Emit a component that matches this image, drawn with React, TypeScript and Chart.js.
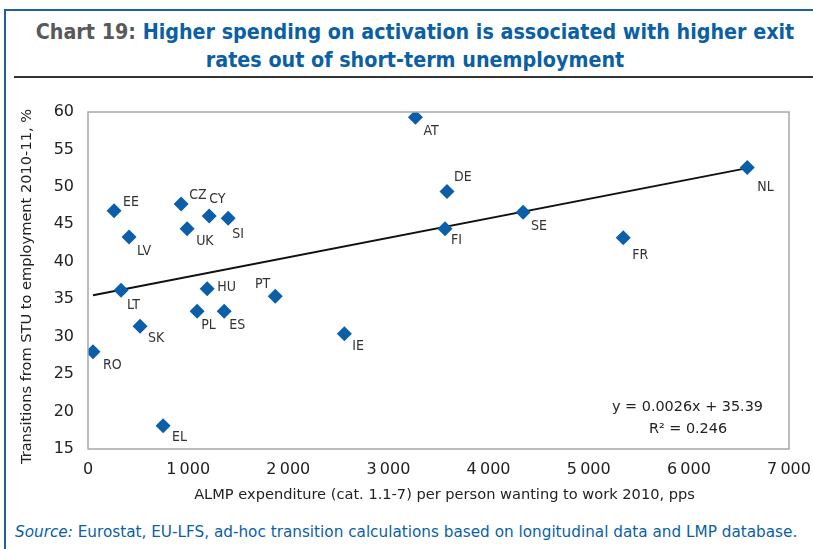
import React, { useEffect, useRef } from "react";
import { Chart, registerables } from "chart.js";

Chart.register(...registerables);

const countries = ["RO", "EE", "LV", "LT", "SK", "EL", "CZ", "UK", "CY", "SI", "HU", "PL", "ES", "PT", "IE", "AT", "DE", "FI", "SE", "FR", "NL"];
const almpSpending = [50, 260, 410, 330, 520, 750, 930, 990, 1210, 1400, 1190, 1090, 1360, 1870, 2560, 3270, 3585, 3565, 4345, 5345, 6583];
const exitRates = [28.0, 46.8, 43.3, 36.2, 31.4, 18.1, 47.7, 44.4, 46.1, 45.8, 36.4, 33.4, 33.4, 35.4, 30.4, 59.3, 49.4, 44.4, 46.6, 43.2, 52.6];
const trendSlope = 0.0026;
const trendIntercept = 35.39;
const rSquared = 0.246;
const xTicks = [0, 1000, 2000, 3000, 4000, 5000, 6000, 7000];
const yTicks = [15, 20, 25, 30, 35, 40, 45, 50, 55, 60];
const xTitle = "ALMP expenditure (cat. 1.1-7) per person wanting to work 2010, pps";
const yTitle = "Transitions from STU to employment 2010-11, %";

// label offsets (pixels, relative to marker centre) and alignment
const labelOffsets: Record<string, [number, number, CanvasTextAlign]> = {
  RO: [10, 14, "left"], EE: [9, -8, "left"], LV: [8, 14, "left"], LT: [6, 15, "left"],
  SK: [8, 12, "left"], EL: [9, 12, "left"], CZ: [8, -9, "left"], UK: [9, 13, "left"],
  CY: [0, -17, "left"], SI: [4, 16, "left"], HU: [10, -1, "left"], PL: [4, 14, "left"],
  ES: [5, 14, "left"], PT: [-5, -12, "right"], IE: [8, 13, "left"], AT: [8, 14, "left"],
  DE: [7, -14, "left"], FI: [6, 12, "left"], SE: [8, 14, "left"], FR: [9, 18, "left"],
  NL: [10, 20, "left"],
};

const fmt = (v: number) => {
  const s = String(v);
  return s.length > 3 ? s.slice(0, s.length - 3) + "\u2009" + s.slice(-3) : s;
};

const roundFont = "'DejaVu Sans', sans-serif";

export default function App() {
  const ref = useRef<HTMLCanvasElement>(null);
  useEffect(() => {
    if (!ref.current) return;
    const minX = Math.min(...almpSpending);
    const maxX = Math.max(...almpSpending);
    const overlay = {
      id: "overlay",
      afterDatasetsDraw(chart: any) {
        const { ctx, chartArea: a, scales } = chart;
        ctx.save();
        ctx.strokeStyle = "#a6a6a6";
        ctx.lineWidth = 1.5;
        ctx.strokeRect(a.left, a.top, a.right - a.left, a.bottom - a.top);
        ctx.fillStyle = "#333";
        ctx.font = `14px 'DejaVu Sans', sans-serif`;
        (ctx as any).fontStretch = "condensed";
        ctx.textBaseline = "middle";
        countries.forEach((c, i) => {
          const px = scales.x.getPixelForValue(almpSpending[i]);
          const py = scales.y.getPixelForValue(exitRates[i]);
          const [dx, dy, al] = labelOffsets[c];
          ctx.textAlign = al;
          ctx.fillText(c, px + dx, py + dy);
        });
        (ctx as any).fontStretch = "normal";
        ctx.fillStyle = "#222";
        ctx.font = `14.4px ${roundFont}`;
        ctx.textAlign = "right";
        ctx.fillText(`y = ${trendSlope.toFixed(4)}x + ${trendIntercept.toFixed(2)}`, a.right - 26, a.bottom - 42);
        ctx.textAlign = "center";
        ctx.fillText(`R\u00b2 = ${rSquared.toFixed(3)}`, a.right - 101, a.bottom - 20);
        // axis titles
        ctx.font = `14.6px ${roundFont}`;
        ctx.fillText(xTitle, (a.left + a.right) / 2 + 6, a.bottom + 46);
        ctx.translate(27, (a.top + a.bottom) / 2 + 6);
        ctx.rotate(-Math.PI / 2);
        ctx.fillText(yTitle, 0, 0);
        ctx.restore();
      },
    };
    const chart = new Chart(ref.current, {
      type: "scatter",
      data: {
        datasets: [
          {
            type: "line",
            data: [minX, maxX].map((x) => ({ x, y: trendSlope * x + trendIntercept })),
            borderColor: "#111",
            borderWidth: 2,
            pointRadius: 0,
            fill: false,
            order: 2,
          } as any,
          {
            data: almpSpending.map((x, i) => ({ x, y: exitRates[i] })),
            pointStyle: "rectRot",
            pointRadius: 7.5,
            backgroundColor: "#0b5ea8",
            borderColor: "#0b5ea8",
            borderWidth: 0,
            order: 1,
          },
        ],
      },
      options: {
        animation: false,
        responsive: false,
        events: [],
        layout: { padding: { left: 0, right: 24, top: 27, bottom: 0 } },
        plugins: { legend: { display: false }, tooltip: { enabled: false }, title: { display: false } },
        scales: {
          x: {
            type: "linear",
            min: 0,
            max: 7000,
            afterBuildTicks: (s: any) => { s.ticks = xTicks.map((v) => ({ value: v })); },
            afterFit: (s: any) => { s.height = 66; s.paddingLeft = 0; s.paddingRight = 0; },
            grid: { display: false, drawTicks: false },
            border: { display: false },
            ticks: { padding: 11, color: "#222", font: { family: roundFont, size: 16 }, callback: (v: any) => fmt(Number(v)), maxRotation: 0 },
            title: { display: false },
          },
          y: {
            type: "linear",
            min: 15,
            max: 60,
            afterBuildTicks: (s: any) => { s.ticks = yTicks.map((v) => ({ value: v })); },
            afterFit: (s: any) => { s.width = 88; s.paddingTop = 0; s.paddingBottom = 0; },
            grid: { display: false, drawTicks: false },
            border: { display: false },
            ticks: { padding: 14, color: "#222", font: { family: roundFont, size: 16 } },
            title: { display: false },
          },
        },
      },
      plugins: [overlay],
    });
    return () => chart.destroy();
  }, []);

  return (
    <div style={{ position: "fixed", left: 0, top: 0, width: 813, height: 549, background: "#fff", overflow: "hidden" }}>
      <div style={{ position: "absolute", left: 4, top: 9, width: 820, height: 560, borderTop: "2px solid #1f5fa0", borderLeft: "2px solid #1f5fa0" }} />
      <div style={{ position: "absolute", left: 14, top: 76, width: 800, height: 0, borderTop: "2px solid #333" }} />
      <div style={{ position: "absolute", left: 10, top: 18, width: 810, textAlign: "center", fontFamily: "'DejaVu Sans', sans-serif", fontStretch: "condensed", fontWeight: 700, fontSize: 21.3, lineHeight: "28px", color: "#0b5fa5", whiteSpace: "nowrap" }}>
        <span style={{ color: "#595959" }}>Chart 19: </span>Higher spending on activation is associated with higher exit<br />rates out of short-term unemployment
      </div>
      <canvas ref={ref} width={813} height={430} style={{ position: "absolute", left: 0, top: 85, width: 813, height: 430 }} />
      <div style={{ position: "absolute", left: 15, top: 523, fontFamily: roundFont, fontSize: 15.25, color: "#0b5fa5", whiteSpace: "nowrap" }}>
        <i>Source:</i> Eurostat, EU-LFS, ad-hoc transition calculations based on longitudinal data and LMP database.
      </div>
    </div>
  );
}
